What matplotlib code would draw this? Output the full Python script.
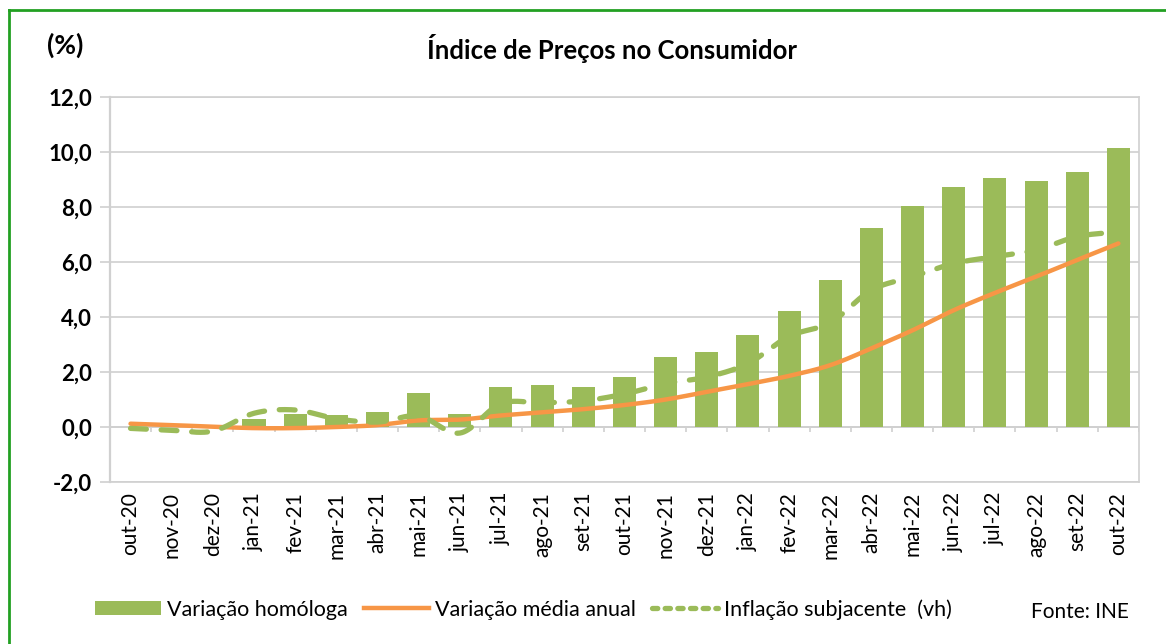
import matplotlib
matplotlib.use('Agg')
import matplotlib.pyplot as plt
import numpy as np
from matplotlib.lines import Line2D
from matplotlib.patches import Patch

# dados (%)
meses = ['out-20', 'nov-20', 'dez-20', 'jan-21', 'fev-21', 'mar-21', 'abr-21', 'mai-21',
         'jun-21', 'jul-21', 'ago-21', 'set-21', 'out-21', 'nov-21', 'dez-21', 'jan-22',
         'fev-22', 'mar-22', 'abr-22', 'mai-22', 'jun-22', 'jul-22', 'ago-22', 'set-22', 'out-22']
homologa = [0.0, 0.0, 0.0, 0.30, 0.46, 0.43, 0.53, 1.22, 0.48, 1.45, 1.52, 1.46, 1.82,
            2.56, 2.72, 3.35, 4.22, 5.36, 7.24, 8.04, 8.72, 9.06, 8.94, 9.28, 10.15]
media_anual = [0.12, 0.07, 0.01, -0.04, -0.04, 0.0, 0.07, 0.24, 0.27, 0.42, 0.53, 0.65, 0.80,
               1.00, 1.28, 1.56, 1.86, 2.25, 2.86, 3.52, 4.25, 4.88, 5.47, 6.08, 6.68]
subjacente = [-0.05, -0.12, -0.15, 0.50, 0.62, 0.30, 0.18, 0.40, -0.22, 0.85, 0.88, 0.95, 1.20,
              1.58, 1.82, 2.31, 3.30, 3.80, 4.98, 5.47, 5.95, 6.20, 6.44, 6.93, 7.10]

verde = '#9BBB59'
laranja = '#F79646'
cinza = '#D0D0D0'

plt.rcParams['font.family'] = ['Lato', 'DejaVu Sans']


# linha suavizada (tipo Excel, catmull-rom)
def suave(y, n=20):
    y = np.asarray(y, float)
    p = np.concatenate([[2 * y[0] - y[1]], y, [2 * y[-1] - y[-2]]])
    xs, ys = [], []
    t = np.linspace(0, 1, n, endpoint=False)
    for i in range(len(y) - 1):
        p0, p1, p2, p3 = p[i], p[i + 1], p[i + 2], p[i + 3]
        ys.append(0.5 * (2 * p1 + (-p0 + p2) * t + (2 * p0 - 5 * p1 + 4 * p2 - p3) * t ** 2
                         + (-p0 + 3 * p1 - 3 * p2 + p3) * t ** 3))
        xs.append(i + t)
    xs.append([len(y) - 1])
    ys.append([y[-1]])
    return np.concatenate(xs), np.concatenate(ys)


fig = plt.figure(figsize=(11.66, 6.44), dpi=100)
ax = fig.add_axes([0.0943, 0.2516, 0.8825, 0.5974])

x = np.arange(len(meses))
ax.bar(x, homologa, width=0.56, color=verde, zorder=2)

xs, ys = suave(media_anual)
ax.plot(xs, ys, color=laranja, lw=3.2, solid_capstyle='round', zorder=3)
xs, ys = suave(subjacente)
ax.plot(xs, ys, color=verde, lw=3.8, dashes=(3, 2.8), dash_capstyle='round', zorder=4)

ax.set_xlim(-0.5, len(meses) - 0.5)
ax.set_ylim(-2, 12)
ax.set_yticks(range(-2, 13, 2))
ax.set_yticklabels([('%.1f' % v).replace('.', ',') for v in range(-2, 13, 2)],
                   fontsize=16, fontweight='bold')
ax.set_xticks(x)
ax.set_xticklabels(meses, rotation=90, fontsize=15)
ax.tick_params(axis='x', length=0, pad=7)
ax.tick_params(axis='y', length=7, color=cinza, width=1.2, pad=6)

ax.grid(axis='y', color=cinza, lw=1.2, zorder=0)
for s in ax.spines.values():
    s.set_color(cinza)
    s.set_linewidth(1.2)
ax.spines['left'].set_linewidth(1.6)

# eixo em zero com marcas entre meses
ax.axhline(0, color=cinza, lw=1.4, zorder=1)
ax.vlines(np.arange(len(meses) + 1) - 0.5, -0.18, 0, color=cinza, lw=1.2, zorder=1)

fig.text(0.525, 0.925, 'Índice de Preços no Consumidor', ha='center', va='center',
         fontsize=18.5, fontweight='bold')
fig.text(0.040, 0.930, '(%)', ha='left', va='center', fontsize=19, fontweight='bold')

handles = [Patch(facecolor=verde),
           Line2D([], [], color=laranja, lw=3.2),
           Line2D([], [], color=verde, lw=3.8, dashes=(1.0, 1.4), dash_capstyle='round')]
labels = ['Variação homóloga', 'Variação média anual', 'Inflação subjacente  (vh)']
fig.legend(handles, labels, loc='center left', bbox_to_anchor=(0.065, 0.054), ncol=3,
           frameon=False, fontsize=15.5, handlelength=3.05, handleheight=0.6,
           handletextpad=0.28, columnspacing=0.75)
fig.text(0.926, 0.050, 'Fonte: INE', ha='center', va='center', fontsize=15)

# moldura verde (só esquerda e topo)
borda = '#22A022'
fig.add_artist(Line2D([0.0077, 0.0077], [0, 0.9845], transform=fig.transFigure, color=borda, lw=2))
fig.add_artist(Line2D([0.0077, 1], [0.9845, 0.9845], transform=fig.transFigure, color=borda, lw=2))

fig.savefig('out.png', dpi=100)
